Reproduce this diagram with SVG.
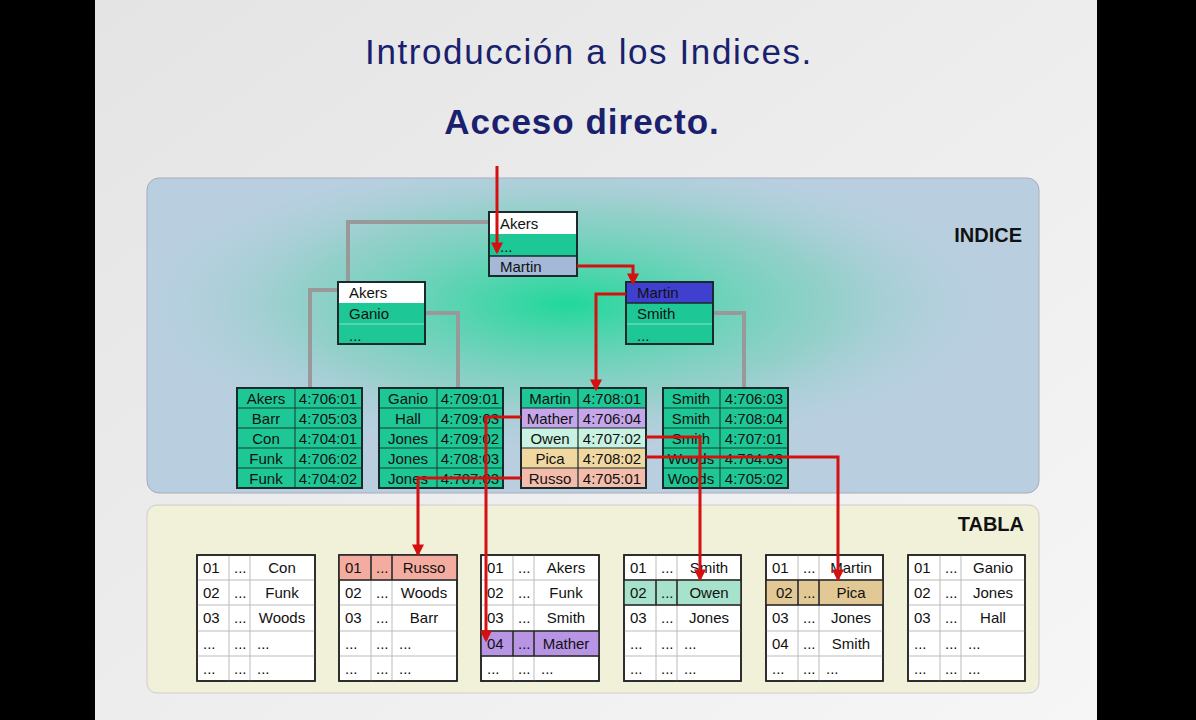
<svg xmlns="http://www.w3.org/2000/svg" width="1196" height="720" viewBox="0 0 1196 720">
<defs>
<style>
text{font-family:"Liberation Sans",Arial,sans-serif;font-size:15px;fill:#111}
.c{text-anchor:middle}
.t{fill:#1a1f6e;font-size:35px;text-anchor:middle;letter-spacing:1.6px}
.lab{font-weight:bold;font-size:20px;text-anchor:end;fill:#111}
.g{fill:#1ec896;stroke:#1a3a2a;stroke-width:1}
.gl{stroke:#8fe0c4;stroke-width:1}
.w{fill:#fff}
.tb{fill:#fff;stroke:#222;stroke-width:1.5}
.gr{stroke:#bbb;stroke-width:1}
.gc{fill:none;stroke:#999;stroke-width:4}
.r{fill:none;stroke:#d41010;stroke-width:3;marker-end:url(#a)}
.bx{fill:none;stroke:#1a2a2a;stroke-width:2}
</style>
<marker id="a" viewBox="0 0 10 10" refX="8" refY="5" markerWidth="4" markerHeight="4" orient="auto"><path d="M0,0L10,5L0,10z" fill="#d41010"/></marker>
<radialGradient id="glow" cx="0.47" cy="0.4" r="0.5"><stop offset="0" stop-color="#20d89a"/><stop offset="0.6" stop-color="#7cd0bc" stop-opacity="0.6"/><stop offset="1" stop-color="#b8cfe0" stop-opacity="0"/></radialGradient>
<linearGradient id="bg" x1="0" y1="0" x2="1" y2="1"><stop offset="0" stop-color="#e4e4e4"/><stop offset="1" stop-color="#f6f6f6"/></linearGradient>
</defs>
<rect width="1196" height="720" fill="#000"/>
<rect x="95" y="0" width="1002" height="720" fill="url(#bg)"/>
<text class="t" x="589" y="64">Introducción a los Indices.</text>
<text class="t" x="582" y="134" style="font-weight:bold;letter-spacing:1px">Acceso directo.</text>
<g id="indice-panel">
<rect x="147" y="178" width="892" height="315" rx="12" fill="#b9cfe0" stroke="#aab" stroke-width="1"/>
<rect x="147" y="178" width="892" height="315" rx="12" fill="url(#glow)"/>
<text class="lab" x="1022" y="242">INDICE</text>
</g>
<g id="tabla-panel">
<rect x="147" y="505" width="892" height="188" rx="10" fill="#f1f1da" stroke="#ccc" stroke-width="1"/>
<text class="lab" x="1024" y="531">TABLA</text>
</g>
<g id="tree-lines">
<path class="gc" d="M489,222H348V282"/>
<path class="gc" d="M338,290H310V388"/>
<path class="gc" d="M425,313H458V388"/>
<path class="gc" d="M713,313H744V388"/>
</g>
<g id="root">
<rect x="489" y="212" width="88" height="22" class="w"/>
<rect x="489" y="234" width="88" height="22" fill="#1ec896"/>
<rect x="489" y="256" width="88" height="20" fill="#a4b8d8"/>
<line x1="489" y1="256" x2="577" y2="256" stroke="#1a2a2a" stroke-width="1.5"/>
<rect x="489" y="212" width="88" height="64" class="bx"/>
<text x="500" y="229">Akers</text><text x="500" y="252">...</text><text x="500" y="272">Martin</text>
</g>
<g id="left-node">
<rect x="338" y="282" width="87" height="21" class="w"/>
<rect x="338" y="303" width="87" height="41" fill="#1ec896"/>
<line x1="338" y1="324" x2="425" y2="324" class="gl"/>
<rect x="338" y="282" width="87" height="62" class="bx"/>
<text x="349" y="298">Akers</text><text x="349" y="319">Ganio</text><text x="349" y="341">...</text>
</g>
<g id="right-node">
<rect x="626" y="282" width="87" height="21" fill="#4040d0"/>
<rect x="626" y="303" width="87" height="41" fill="#1ec896"/>
<line x1="626" y1="303" x2="713" y2="303" stroke="#1a2a2a" stroke-width="1.5"/>
<line x1="626" y1="324" x2="713" y2="324" class="gl"/>
<rect x="626" y="282" width="87" height="62" class="bx"/>
<text x="637" y="298">Martin</text><text x="637" y="319">Smith</text><text x="637" y="341">...</text>
</g>
<g id="leaf1">
<rect x="237" y="388" width="125" height="100" class="g"/>
<path d="M237,408H362M237,428H362M237,448H362M237,468H362M295,388V488" stroke="#1a3a2a" stroke-width="1"/>
<rect x="237" y="388" width="125" height="100" class="bx"/>
<text x="266" y="404" class="c">Akers</text><text x="266" y="424" class="c">Barr</text><text x="266" y="444" class="c">Con</text><text x="266" y="464" class="c">Funk</text><text x="266" y="484" class="c">Funk</text>
<text x="328" y="404" class="c">4:706:01</text><text x="328" y="424" class="c">4:705:03</text><text x="328" y="444" class="c">4:704:01</text><text x="328" y="464" class="c">4:706:02</text><text x="328" y="484" class="c">4:704:02</text>
</g>
<g id="leaf2">
<rect x="379" y="388" width="124" height="100" class="g"/>
<path d="M379,408H503M379,428H503M379,448H503M379,468H503M437,388V488" stroke="#1a3a2a" stroke-width="1"/>
<rect x="379" y="388" width="124" height="100" class="bx"/>
<text x="408" y="404" class="c">Ganio</text><text x="408" y="424" class="c">Hall</text><text x="408" y="444" class="c">Jones</text><text x="408" y="464" class="c">Jones</text><text x="408" y="484" class="c">Jones</text>
<text x="470" y="404" class="c">4:709:01</text><text x="470" y="424" class="c">4:709:03</text><text x="470" y="444" class="c">4:709:02</text><text x="470" y="464" class="c">4:708:03</text><text x="470" y="484" class="c">4:707:03</text>
</g>
<g id="leaf3">
<rect x="521" y="388" width="125" height="20" fill="#1ec896"/>
<rect x="521" y="408" width="125" height="20" fill="#c6a6ea"/>
<rect x="521" y="428" width="125" height="20" fill="#c8f2e2"/>
<rect x="521" y="448" width="125" height="20" fill="#f0d8a0"/>
<rect x="521" y="468" width="125" height="20" fill="#f4bcaa"/>
<path d="M521,408H646M521,428H646M521,448H646M521,468H646M578,388V488" stroke="#1a2a2a" stroke-width="1.2"/>
<rect x="521" y="388" width="125" height="100" class="bx"/>
<text x="550" y="404" class="c">Martin</text><text x="550" y="424" class="c">Mather</text><text x="550" y="444" class="c">Owen</text><text x="550" y="464" class="c">Pica</text><text x="550" y="484" class="c">Russo</text>
<text x="612" y="404" class="c">4:708:01</text><text x="612" y="424" class="c">4:706:04</text><text x="612" y="444" class="c">4:707:02</text><text x="612" y="464" class="c">4:708:02</text><text x="612" y="484" class="c">4:705:01</text>
</g>
<g id="leaf4">
<rect x="663" y="388" width="125" height="100" class="g"/>
<path d="M663,408H788M663,428H788M663,448H788M663,468H788M720,388V488" stroke="#1a3a2a" stroke-width="1"/>
<rect x="663" y="388" width="125" height="100" class="bx"/>
<text x="691" y="404" class="c">Smith</text><text x="691" y="424" class="c">Smith</text><text x="691" y="444" class="c">Smith</text><text x="691" y="464" class="c">Woods</text><text x="691" y="484" class="c">Woods</text>
<text x="754" y="404" class="c">4:706:03</text><text x="754" y="424" class="c">4:708:04</text><text x="754" y="444" class="c">4:707:01</text><text x="754" y="464" class="c">4:704:03</text><text x="754" y="484" class="c">4:705:02</text>
</g>
<g id="table1" transform="translate(197,555)">
<rect width="118" height="126" class="tb"/>
<path d="M0,25H118M0,50H118M0,76H118M0,101H118M32,0V126M53,0V126" class="gr"/>
<rect width="118" height="126" fill="none" stroke="#222" stroke-width="1.5"/>
<text x="6" y="18">01</text><text x="37" y="18">...</text><text x="85" y="18" class="c">Con</text>
<text x="6" y="43">02</text><text x="37" y="43">...</text><text x="85" y="43" class="c">Funk</text>
<text x="6" y="68">03</text><text x="37" y="68">...</text><text x="85" y="68" class="c">Woods</text>
<text x="6" y="94">...</text><text x="37" y="94">...</text><text x="60" y="94">...</text>
<text x="6" y="119">...</text><text x="37" y="119">...</text><text x="60" y="119">...</text>
</g>
<g id="table2" transform="translate(339,555)">
<rect width="118" height="126" class="tb"/>
<rect width="118" height="25" fill="#f4aca0"/>
<path d="M0,25H118M0,50H118M0,76H118M0,101H118M32,0V126M53,0V126" class="gr"/>
<path d="M0,25H118M32,0V25M53,0V25" stroke="#222" stroke-width="1.5"/>
<rect width="118" height="126" fill="none" stroke="#222" stroke-width="1.5"/>
<text x="6" y="18">01</text><text x="37" y="18">...</text><text x="85" y="18" class="c">Russo</text>
<text x="6" y="43">02</text><text x="37" y="43">...</text><text x="85" y="43" class="c">Woods</text>
<text x="6" y="68">03</text><text x="37" y="68">...</text><text x="85" y="68" class="c">Barr</text>
<text x="6" y="94">...</text><text x="37" y="94">...</text><text x="60" y="94">...</text>
<text x="6" y="119">...</text><text x="37" y="119">...</text><text x="60" y="119">...</text>
</g>
<g id="table3" transform="translate(481,555)">
<rect width="118" height="126" class="tb"/>
<rect y="76" width="118" height="25" fill="#b894e4"/>
<path d="M0,25H118M0,50H118M0,76H118M0,101H118M32,0V126M53,0V126" class="gr"/>
<path d="M0,76H118M0,101H118M32,76V101M53,76V101" stroke="#222" stroke-width="1.5"/>
<rect width="118" height="126" fill="none" stroke="#222" stroke-width="1.5"/>
<text x="6" y="18">01</text><text x="37" y="18">...</text><text x="85" y="18" class="c">Akers</text>
<text x="6" y="43">02</text><text x="37" y="43">...</text><text x="85" y="43" class="c">Funk</text>
<text x="6" y="68">03</text><text x="37" y="68">...</text><text x="85" y="68" class="c">Smith</text>
<text x="6" y="94">04</text><text x="37" y="94">...</text><text x="85" y="94" class="c">Mather</text>
<text x="6" y="119">...</text><text x="37" y="119">...</text><text x="60" y="119">...</text>
</g>
<g id="table4" transform="translate(624,555)">
<rect width="117" height="126" class="tb"/>
<rect y="25" width="117" height="25" fill="#a6e2cc"/>
<path d="M0,25H117M0,50H117M0,76H117M0,101H117M32,0V126M53,0V126" class="gr"/>
<path d="M0,25H117M0,50H117M32,25V50M53,25V50" stroke="#222" stroke-width="1.5"/>
<rect width="117" height="126" fill="none" stroke="#222" stroke-width="1.5"/>
<text x="6" y="18">01</text><text x="37" y="18">...</text><text x="85" y="18" class="c">Smith</text>
<text x="6" y="43">02</text><text x="37" y="43">...</text><text x="85" y="43" class="c">Owen</text>
<text x="6" y="68">03</text><text x="37" y="68">...</text><text x="85" y="68" class="c">Jones</text>
<text x="6" y="94">...</text><text x="37" y="94">...</text><text x="60" y="94">...</text>
<text x="6" y="119">...</text><text x="37" y="119">...</text><text x="60" y="119">...</text>
</g>
<g id="table5" transform="translate(766,555)">
<rect width="117" height="126" class="tb"/>
<rect y="25" width="117" height="25" fill="#e2c894"/>
<path d="M0,25H117M0,50H117M0,76H117M0,101H117M32,0V126M53,0V126" class="gr"/>
<path d="M0,25H117M0,50H117M32,25V50M53,25V50" stroke="#222" stroke-width="1.5"/>
<rect width="117" height="126" fill="none" stroke="#222" stroke-width="1.5"/>
<text x="6" y="18">01</text><text x="37" y="18">...</text><text x="85" y="18" class="c">Martin</text>
<text x="10" y="43">02</text><text x="37" y="43">...</text><text x="85" y="43" class="c">Pica</text>
<text x="6" y="68">03</text><text x="37" y="68">...</text><text x="85" y="68" class="c">Jones</text>
<text x="6" y="94">04</text><text x="37" y="94">...</text><text x="85" y="94" class="c">Smith</text>
<text x="6" y="119">...</text><text x="37" y="119">...</text><text x="60" y="119">...</text>
</g>
<g id="table6" transform="translate(908,555)">
<rect width="117" height="126" class="tb"/>
<path d="M0,25H117M0,50H117M0,76H117M0,101H117M32,0V126M53,0V126" class="gr"/>
<rect width="117" height="126" fill="none" stroke="#222" stroke-width="1.5"/>
<text x="6" y="18">01</text><text x="37" y="18">...</text><text x="85" y="18" class="c">Ganio</text>
<text x="6" y="43">02</text><text x="37" y="43">...</text><text x="85" y="43" class="c">Jones</text>
<text x="6" y="68">03</text><text x="37" y="68">...</text><text x="85" y="68" class="c">Hall</text>
<text x="6" y="94">...</text><text x="37" y="94">...</text><text x="60" y="94">...</text>
<text x="6" y="119">...</text><text x="37" y="119">...</text><text x="60" y="119">...</text>
</g>
<g id="connectors">
<path class="r" d="M497,166V252"/>
<path class="r" d="M577,266H633V283"/>
<path class="r" d="M626,294H596V389"/>
<path class="r" d="M521,417H486V640"/>
<path class="r" d="M521,478H418V554"/>
<path class="r" d="M646,437H700V579"/>
<path class="r" d="M646,457H838V579"/>
</g>
</svg>
